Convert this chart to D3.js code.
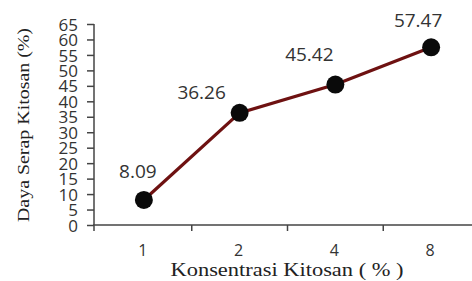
<!DOCTYPE html>
<html><head><meta charset="utf-8">
<script src="https://cdn.jsdelivr.net/npm/d3@7/dist/d3.min.js"></script>
<style>body{margin:0;background:#fff}svg{display:block}</style>
</head><body>
<script>
const categories = ["1", "2", "4", "8"];
const values = [8.09, 36.26, 45.42, 57.47];
const valueLabels = ["8.09", "36.26", "45.42", "57.47"];
const yTicks = [0, 5, 10, 15, 20, 25, 30, 35, 40, 45, 50, 55, 60, 65];
const xTitle = "Konsentrasi Kitosan ( % )";
const yTitle = "Daya Serap Kitosan (%)";

const W = 472, H = 281;
const svg = d3.select("body").append("svg").attr("width", W).attr("height", H);

const x = d3.scaleBand().domain(categories).range([96, 479]).padding(0);
const y = d3.scaleLinear().domain([0, 65]).range([225, 24]);
const axisColor = "#444";

// Y axis
const yAxis = svg.append("g").attr("transform", "translate(94,0)")
  .call(d3.axisLeft(y).tickValues(yTicks).tickSize(7).tickPadding(9));
yAxis.select(".domain").attr("stroke", axisColor).attr("stroke-width", 1.5).attr("d", `M0,${y(65)}V${y(0)+6}`);
yAxis.selectAll(".tick line").attr("stroke", axisColor).attr("stroke-width", 1.5);
yAxis.selectAll(".tick text").attr("fill", "#333").style("font-family", "Open Sans").style("font-size", "17px").attr("dy", "0.36em");

// X axis line
svg.append("line").attr("x1", 93).attr("x2", W).attr("y1", y(0)).attr("y2", y(0))
  .attr("stroke", axisColor).attr("stroke-width", 1.5);
// X ticks between categories
svg.selectAll(".xt").data(categories.slice(1)).enter().append("line")
  .attr("x1", d => x(d)).attr("x2", d => x(d))
  .attr("y1", y(0)).attr("y2", y(0) + 6)
  .attr("stroke", axisColor).attr("stroke-width", 1.5);
// X labels
svg.selectAll(".xl").data(categories).enter().append("text")
  .attr("x", d => x(d) + x.bandwidth() / 2 - 1).attr("y", 256)
  .attr("text-anchor", "middle").attr("fill", "#333")
  .style("font-family", "Open Sans").style("font-size", "16px").text(d => d);

// Line
const cx = (d, i) => x(categories[i]) + x.bandwidth() / 2;
const line = d3.line().x((d, i) => cx(d, i)).y(d => y(d));
svg.append("path").datum(values).attr("d", line)
  .attr("fill", "none").attr("stroke", "#6e1111").attr("stroke-width", 3.2);
svg.selectAll(".pt").data(values).enter().append("circle")
  .attr("cx", cx).attr("cy", d => y(d)).attr("r", 9).attr("fill", "#0a0a0a");

// Value labels
const labelOffsets = [[-6, -22], [-38, -14], [-26, -24], [-13, -20]];
svg.selectAll(".vl").data(values).enter().append("text")
  .attr("x", (d, i) => cx(d, i) + labelOffsets[i][0])
  .attr("y", (d, i) => y(d) + labelOffsets[i][1])
  .attr("text-anchor", "middle").attr("fill", "#333")
  .style("font-family", "Open Sans").style("font-size", "19px")
  .text((d, i) => valueLabels[i]);

// Axis titles
svg.append("text").attr("x", 287).attr("y", 276).attr("text-anchor", "middle")
  .attr("fill", "#222").style("font-family", "Liberation Serif").style("font-size", "19px")
  .attr("textLength", 233).attr("lengthAdjust", "spacingAndGlyphs").text(xTitle);
svg.append("text").attr("transform", "translate(29,125) rotate(-90)").attr("text-anchor", "middle")
  .attr("fill", "#222").style("font-family", "Liberation Serif").style("font-size", "17px")
  .attr("textLength", 194).attr("lengthAdjust", "spacingAndGlyphs").text(yTitle);
</script>
</body></html>
